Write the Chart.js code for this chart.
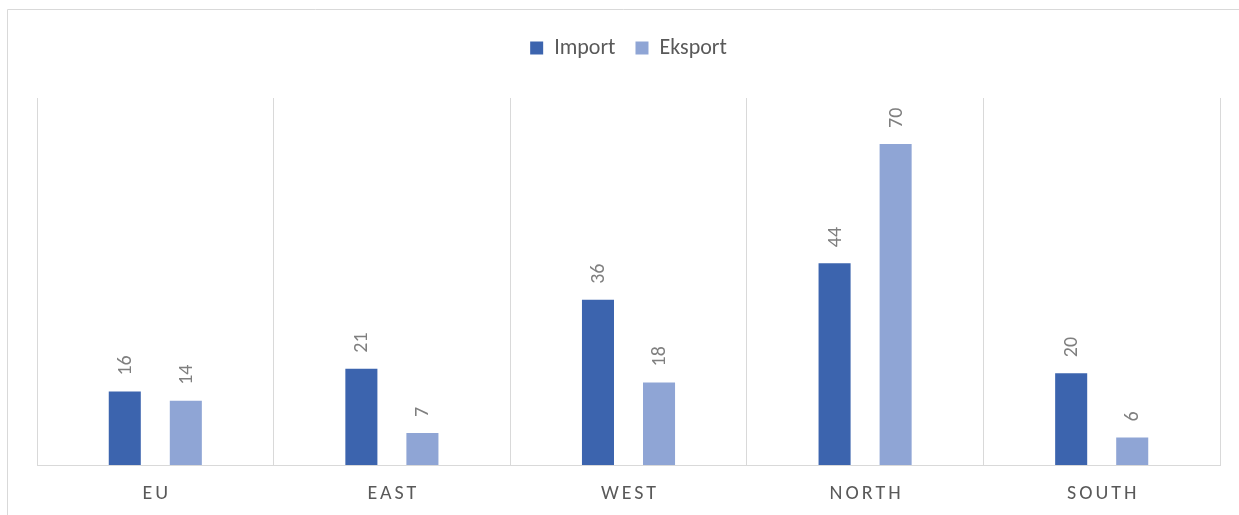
<!DOCTYPE html>
<html>
<head>
<meta charset="utf-8">
<script src="https://cdn.jsdelivr.net/npm/chart.js@4/dist/chart.umd.min.js"></script>
<style>
html,body{margin:0;padding:0;background:#fff;}
#wrap{position:relative;width:1239px;height:515px;}
</style>
</head>
<body>
<div id="wrap"><canvas id="c" width="1239" height="515"></canvas></div>
<script>
const categories = ["EU", "EAST", "WEST", "NORTH", "SOUTH"];
const importValues = [16, 21, 36, 44, 20];
const eksportValues = [14, 7, 18, 70, 6];
const seriesNames = ["Import", "Eksport"];

const FONT = "Carlito, Calibri, Lato, 'Open Sans', sans-serif";

const framePlugin = {
  id: 'frame',
  beforeDraw(chart) {
    const ctx = chart.ctx;
    ctx.save();
    ctx.strokeStyle = '#d9d9d9';
    ctx.lineWidth = 1;
    ctx.beginPath();
    ctx.moveTo(7.5, 515);
    ctx.lineTo(7.5, 9.5);
    ctx.lineTo(1239, 9.5);
    ctx.stroke();
    ctx.restore();
  }
};

const legendSpacer = {
  id: 'legendSpacer',
  beforeUpdate(chart) {
    const lg = chart.legend;
    if (lg && !lg._spaced) {
      const orig = lg.fit;
      lg.fit = function () { orig.call(this); this.height += 29; };
      lg._spaced = true;
    }
  }
};

const labelPlugin = {
  id: 'valueLabels',
  afterDatasetsDraw(chart) {
    const ctx = chart.ctx;
    ctx.save();
    ctx.fillStyle = '#7f7f7f';
    ctx.font = "20px " + FONT;
    ctx.textAlign = 'left';
    ctx.textBaseline = 'middle';
    chart.data.datasets.forEach((ds, di) => {
      const meta = chart.getDatasetMeta(di);
      meta.data.forEach((bar, i) => {
        ctx.save();
        ctx.translate(bar.x, bar.y - 16);
        ctx.rotate(-Math.PI / 2);
        ctx.fillText(String(ds.data[i]), 0, 1);
        ctx.restore();
      });
    });
    ctx.restore();
  }
};

const xLabelPlugin = {
  id: 'xLabels',
  afterDraw(chart) {
    const ctx = chart.ctx;
    const xs = chart.scales.x;
    ctx.save();
    ctx.fillStyle = '#595959';
    ctx.font = "20px " + FONT;
    ctx.letterSpacing = '3px';
    ctx.textAlign = 'center';
    ctx.textBaseline = 'middle';
    categories.forEach((c, i) => {
      const x = xs.getPixelForValue(i);
      ctx.fillText(c, x + 1.5, chart.chartArea.bottom + 29);
    });
    ctx.restore();
  }
};

new Chart(document.getElementById('c'), {
  type: 'bar',
  data: {
    labels: categories,
    datasets: [
      { label: seriesNames[0], data: importValues, backgroundColor: '#3c64ae', borderWidth: 0 },
      { label: seriesNames[1], data: eksportValues, backgroundColor: '#8fa5d5', borderWidth: 0 }
    ]
  },
  options: {
    responsive: false,
    animation: false,
    layout: { padding: { left: 37, right: 19, top: 17, bottom: 50 } },
    datasets: { bar: { categoryPercentage: 0.516, barPercentage: 0.525 } },
    plugins: {
      legend: {
        position: 'top',
        align: 'center',
        labels: {
          color: '#595959',
          font: { family: FONT, size: 22 },
          boxWidth: 13,
          boxHeight: 13,
          padding: 20
        }
      },
      tooltip: { enabled: false }
    },
    scales: {
      x: {
        offset: true,
        grid: { display: true, offset: true, color: '#d9d9d9', drawTicks: false },
        border: { display: true, color: '#d9d9d9' },
        ticks: { display: false }
      },
      y: {
        display: false,
        min: 0,
        max: 80
      }
    }
  },
  plugins: [framePlugin, legendSpacer, labelPlugin, xLabelPlugin]
});
</script>
</body>
</html>
